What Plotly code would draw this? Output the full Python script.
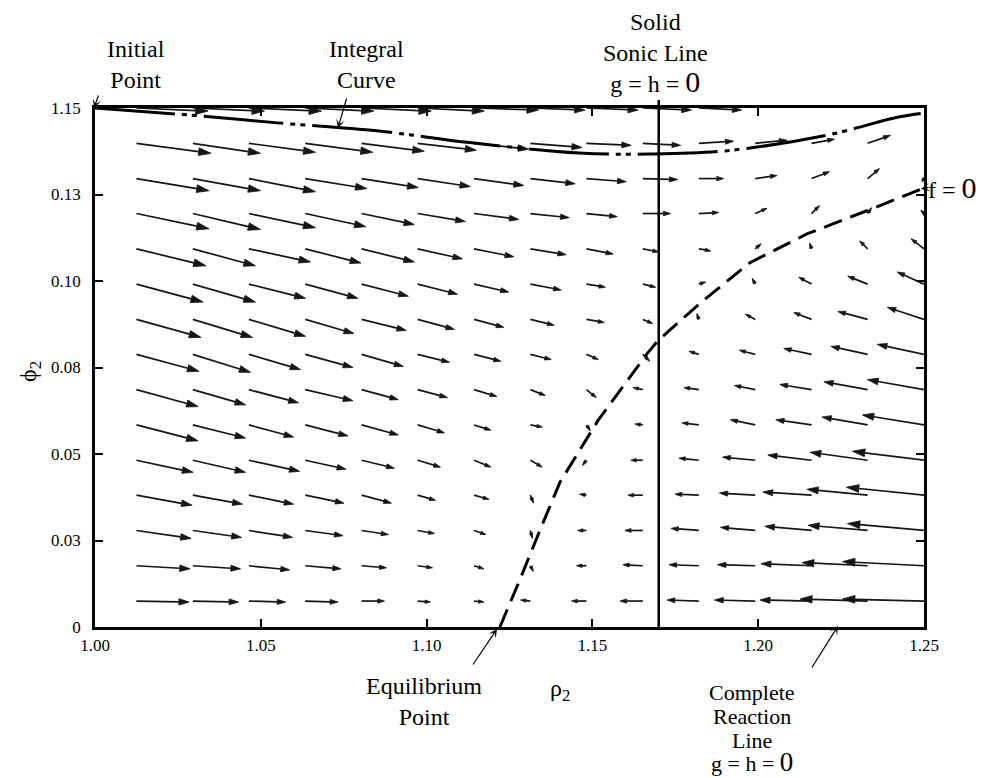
import math
import plotly.graph_objects as go

# ---------------- data ----------------
# grid of the vector field (rho_2 columns, phi_2 rows, bottom -> top)
RHO = [1.0125, 1.0295, 1.0464, 1.0634, 1.0804, 1.0973, 1.1143, 1.1313,
       1.1482, 1.1652, 1.1821, 1.1991, 1.2161, 1.2330, 1.2500]
PHI = [0.0075, 0.0177, 0.0279, 0.0381, 0.0482, 0.0584, 0.0686, 0.0788,
       0.0889, 0.0991, 0.1093, 0.1195, 0.1296, 0.1398, 0.1500]

# vector components (units of 1e-4), one list per phi row, bottom -> top
DRHO = [
    [159, 138, 111, 99, 69, 39, 30, -30, -45, -69, -96, -123, -156, -204, -246],
    [162, 144, 123, 108, 75, 45, 30, 9, -30, -60, -90, -114, -153, -198, -246],
    [165, 147, 132, 114, 81, 51, 36, 6, -27, -54, -84, -105, -141, -180, -231],
    [168, 150, 135, 117, 90, 54, 45, 9, -21, -45, -72, -108, -147, -183, -234],
    [171, 159, 153, 123, 99, 69, 51, 36, -12, -36, -60, -99, -132, -174, -216],
    [186, 159, 135, 129, 111, 81, 51, 36, 12, -24, -51, -75, -108, -138, -186],
    [186, 159, 150, 144, 111, 90, 69, 45, 30, -30, -45, -63, -96, -132, -171],
    [189, 174, 156, 144, 126, 96, 81, 63, 36, 21, -30, -48, -84, -111, -141],
    [195, 180, 171, 147, 135, 111, 90, 72, 54, 30, -6, -30, -54, -90, -111],
    [201, 189, 171, 159, 141, 120, 105, 93, 57, 39, 21, -9, -39, -60, -81],
    [210, 189, 186, 168, 159, 135, 120, 108, 81, 48, 36, 18, -6, -24, -39],
    [219, 204, 201, 183, 159, 144, 135, 117, 93, 84, 60, 36, 24, 12, -9],
    [219, 204, 201, 186, 171, 159, 150, 135, 120, 105, 75, 66, 54, 36, 6],
    [225, 204, 201, 204, 189, 177, 165, 156, 135, 114, 105, 96, 69, 69, 0],
    [216, 216, 219, 207, 210, 201, 195, 165, 156, 147, 129, 0, 0, 0, 0],
]
DPHI = [
    [-3, -3, -3, -3, 0, -3, -3, 3, 0, 0, 3, 3, 3, 6, 6],
    [-9, -9, -12, -9, -6, -6, -9, -17, 0, 3, 3, 3, 6, 9, 12],
    [-23, -20, -20, -15, -12, -9, -12, -23, 0, 0, 6, 9, 12, 15, 20],
    [-29, -26, -26, -23, -23, -15, -12, -23, 3, 0, 3, 6, 9, 17, 23],
    [-35, -35, -32, -26, -23, -20, -20, -20, -15, 0, 6, 9, 15, 23, 26],
    [-46, -38, -35, -32, -29, -23, -15, -6, -17, 3, 6, 15, 15, 23, 29],
    [-49, -44, -38, -32, -29, -23, -20, -17, -23, 6, 6, 12, 15, 23, 29],
    [-49, -52, -44, -38, -35, -23, -20, -15, -15, -20, 9, 12, 17, 23, 29],
    [-52, -52, -49, -41, -32, -29, -23, -17, -9, -12, 17, 15, 20, 23, 35],
    [-52, -52, -41, -41, -35, -29, -23, -17, -9, -9, 6, 17, 20, 23, 35],
    [-49, -49, -38, -41, -38, -29, -23, -17, -15, -9, -6, 15, 17, 23, 29],
    [-44, -46, -41, -38, -32, -23, -17, -12, -9, 0, 3, 15, 23, 17, 9],
    [-35, -35, -38, -29, -26, -23, -20, -15, -9, -3, 0, 9, 20, 29, 9],
    [-29, -29, -26, -26, -23, -20, -17, -12, -6, -6, 6, 9, 12, 23, 0],
    [-9, -9, -9, -9, -9, -9, -6, -6, -6, -6, -6, 0, 0, 0, 0],
]
VEC_UNIT = 1e-4

# integral curve
IC_RHO = [1.000, 1.032, 1.055, 1.085, 1.113, 1.146, 1.167, 1.190, 1.221, 1.241, 1.249]
IC_PHI = [0.1500, 0.1477, 0.1457, 0.1434, 0.1400, 0.1370, 0.1367, 0.1376, 0.1422, 0.1471, 0.1484]

# f = 0 curve (dashed)
F_RHO = [1.1221, 1.1281, 1.1342, 1.1402, 1.1517, 1.1665, 1.1698, 1.1824, 1.1975, 1.2147, 1.2328, 1.2479, 1.2500]
F_PHI = [0.0000, 0.0136, 0.0280, 0.0418, 0.0597, 0.0790, 0.0828, 0.0935, 0.1053, 0.1136, 0.1203, 0.1260, 0.1269]

# solid sonic line
SONIC_RHO = 1.17

X_TICKS = [1.00, 1.05, 1.10, 1.15, 1.20, 1.25]
X_TICK_TEXT = ["1.00", "1.05", "1.10", "1.15", "1.20", "1.25"]
Y_TICKS = [0.0, 0.025, 0.05, 0.075, 0.10, 0.125, 0.15]
Y_TICK_TEXT = ["0", "0.03", "0.05", "0.08", "0.10", "0.13", "1.15"]

# ---------------- layout constants ----------------
OFF = 8                      # page body margin
W, H = 990 - OFF, 778 - OFF
ML, MT = 95 - OFF, 108 - OFF
MR = W - (924 - OFF)
MB = H - (627 - OFF)
X_RANGE = [1.0, 1.25]
Y_RANGE = [0.0, 0.15]
PW, PH = W - ML - MR, H - MT - MB
PX_X = PW / (X_RANGE[1] - X_RANGE[0])
PX_Y = PH / (Y_RANGE[1] - Y_RANGE[0])
FONT = "Liberation Serif"


def px(xs):
    """screen x (incl. body margin) -> paper fraction"""
    return (xs - OFF - ML) / PW


def py(ys):
    return (H - MB - (ys - OFF)) / PH


fig = go.Figure()

# ---- vector field: shafts + filled heads ----
sx, sy, hx, hy = [], [], [], []
for j, phi in enumerate(PHI):
    for i, rho in enumerate(RHO):
        u = DRHO[j][i] * VEC_UNIT
        v = DPHI[j][i] * VEC_UNIT
        if u == 0 and v == 0:
            continue
        dxp, dyp = u * PX_X, v * PX_Y
        L = math.hypot(dxp, dyp)
        ex, ey = dxp / L, dyp / L
        hl = max(5.5, min(12.5, 4.0 + 0.12 * L))
        hw = hl * 0.31
        tipx, tipy = rho + u, phi + v
        bx, by = tipx - hl * ex / PX_X, tipy - hl * ey / PX_Y
        if L > hl:
            sx += [rho, bx, None]
            sy += [phi, by, None]
        else:
            sx += [bx - 2 * ex / PX_X, tipx, None]
            sy += [by - 2 * ey / PX_Y, tipy, None]
        hx += [tipx, bx - hw * ey / PX_X, bx + hw * ey / PX_X, tipx, None]
        hy += [tipy, by + hw * ex / PX_Y, by - hw * ex / PX_Y, tipy, None]

fig.add_trace(go.Scatter(x=sx, y=sy, mode="lines",
                         line=dict(color="#151515", width=1.7),
                         hoverinfo="skip", showlegend=False))
fig.add_trace(go.Scatter(x=hx, y=hy, mode="lines", fill="toself",
                         fillcolor="#151515",
                         line=dict(color="#151515", width=0.8),
                         hoverinfo="skip", showlegend=False))

fig.add_trace(go.Scatter(
    x=F_RHO, y=F_PHI, mode="lines",
    line=dict(color="black", width=3, dash="19px,9px"),
    hoverinfo="skip", showlegend=False))

fig.add_trace(go.Scatter(
    x=IC_RHO, y=IC_PHI, mode="lines",
    line=dict(color="black", width=3, shape="spline",
              dash="80px,7px,5px,5px,5px,7px"),
    hoverinfo="skip", showlegend=False))

annotations = []


def label(text, x, y, xanchor="center", size=24):
    annotations.append(dict(
        text=text, x=px(x), y=py(y), xref="paper", yref="paper",
        xanchor=xanchor, yanchor="middle", showarrow=False,
        font=dict(family=FONT, size=size, color="black"), align="center"))


def pointer(hx_, hy_, ax, ay):
    annotations.append(dict(
        text="", x=px(hx_), y=py(hy_), xref="paper", yref="paper",
        ax=ax, ay=ay, showarrow=True, arrowhead=3, arrowsize=1.2,
        arrowwidth=1.2, arrowcolor="black", standoff=0))


ZERO = "<span style='font-size:30px'>0</span>"
label("Initial<br>Point", 136, 65)
label("Integral<br>Curve", 366, 65)
label("Solid<br>Sonic Line<br>g = h = " + ZERO, 655, 54)
label("f = " + ZERO, 926, 187, xanchor="left")
label("Equilibrium<br>Point", 424, 701)
label("ρ<sub>2</sub>", 560, 690)
label("Complete", 752, 692, size=22)
label("Reaction", 752, 716, size=22)
label("Line", 752, 740, size=22)
label("g = h = <span style='font-size:27px'>0</span>", 752, 762, size=22)
annotations.append(dict(
    text="ϕ<sub>2</sub>", x=px(30), y=py(372), xref="paper", yref="paper",
    textangle=-90, showarrow=False, xanchor="center", yanchor="middle",
    font=dict(family=FONT, size=24, color="black")))

pointer(94, 108, 5, -14)
pointer(338, 128, 9, -31)
pointer(921, 189, 9, -2)
pointer(497, 629, -25, 37)
pointer(838, 626, -27, 43)

fig.add_shape(type="line", xref="x", yref="paper",
              x0=SONIC_RHO, x1=SONIC_RHO, y0=0, y1=py(100),
              line=dict(color="black", width=2.5))

axis_common = dict(
    showgrid=False, zeroline=False, showline=True, linecolor="black",
    linewidth=2.5, mirror="ticks", ticks="inside", ticklen=8, tickwidth=1.5,
    tickcolor="black", tickfont=dict(family=FONT, size=17, color="black"))

fig.update_xaxes(range=X_RANGE, tickvals=X_TICKS, ticktext=X_TICK_TEXT,
                 ticklabelstandoff=1, **axis_common)
fig.update_yaxes(range=Y_RANGE, tickvals=Y_TICKS, ticktext=Y_TICK_TEXT,
                 ticklabelstandoff=8, **axis_common)

fig.update_layout(
    width=W, height=H, autosize=False,
    margin=dict(l=ML, r=MR, t=MT, b=MB),
    paper_bgcolor="white", plot_bgcolor="white",
    annotations=annotations, showlegend=False,
    font=dict(family=FONT, color="black"))

fig.write_html("out.html")
